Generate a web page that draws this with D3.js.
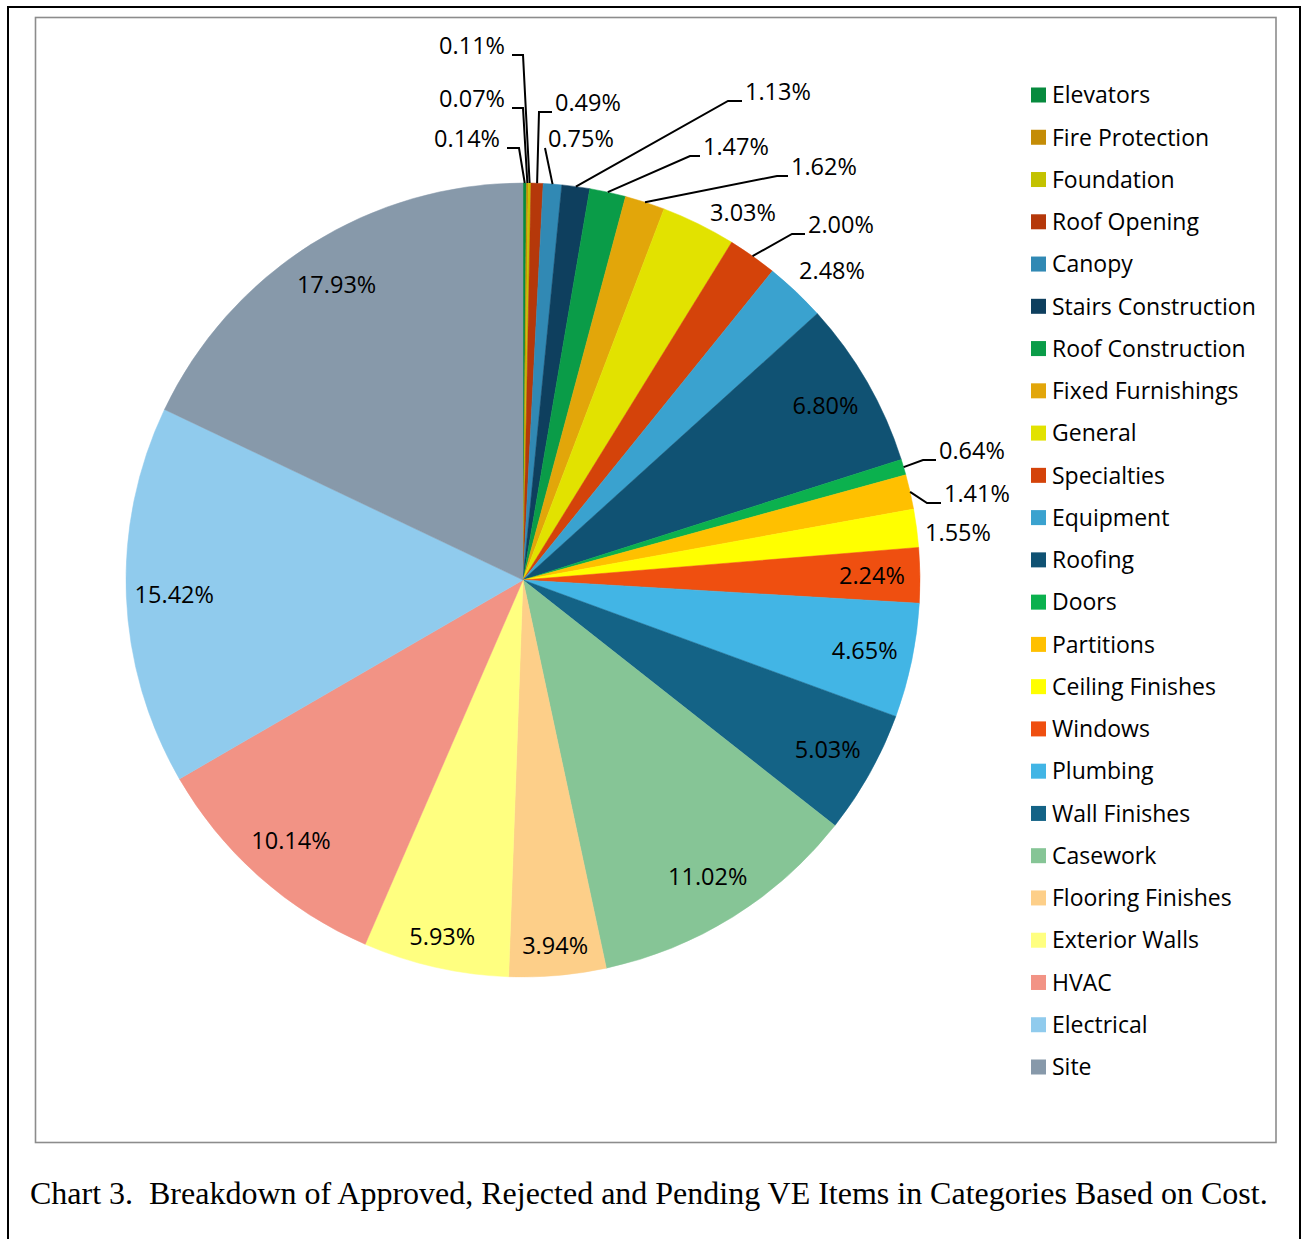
<!DOCTYPE html>
<html><head><meta charset="utf-8">
<script src="https://cdn.jsdelivr.net/npm/d3@7"></script>
<style>body{margin:0;background:#fff} svg{display:block}</style>
</head><body><svg id="c" width="1303" height="1239"></svg>
<script>
const categories = ["Elevators","Fire Protection","Foundation","Roof Opening","Canopy","Stairs Construction","Roof Construction","Fixed Furnishings","General","Specialties","Equipment","Roofing","Doors","Partitions","Ceiling Finishes","Windows","Plumbing","Wall Finishes","Casework","Flooring Finishes","Exterior Walls","HVAC","Electrical","Site"];
const percentages = [0.14,0.07,0.11,0.49,0.75,1.13,1.47,1.62,3.03,2.00,2.48,6.80,0.64,1.41,1.55,2.24,4.65,5.03,11.02,3.94,5.93,10.14,15.42,17.93];
const colors = ["#078a3e","#c48c06","#c3c200","#b5380a","#3189b4","#0e3f5e","#0a9c48","#e2a60a","#e2e200","#d4430a","#3aa2cf","#105273","#0bb14e","#ffc000","#ffff00","#ef4f10","#42b5e5","#146386","#86c596","#fdcf89","#ffff80","#f29385","#90cbed","#8799aa"];
const caption = "Chart 3.  Breakdown of Approved, Rejected and Pending VE Items in Categories Based on Cost.";

// label layout (presentation only)
const leaderLabels = {
  "Elevators":        {side:"left",  x:500, y:147, elbowX:519},
  "Fire Protection":  {side:"left",  x:505, y:107, elbowX:523},
  "Foundation":       {side:"left",  x:505, y:54,  elbowX:523},
  "Roof Opening":     {side:"right", x:555, y:111, elbowX:539},
  "Canopy":           {side:"right", x:548, y:147, elbowX:545},
  "Stairs Construction":{side:"right", x:745, y:100, elbowX:728},
  "Roof Construction":{side:"right", x:703, y:155, elbowX:690},
  "Fixed Furnishings":{side:"right", x:791, y:175, elbowX:777},
  "Specialties":      {side:"right", x:808, y:233, elbowX:792},
  "Doors":            {side:"right", x:939, y:459, elbowX:923},
  "Partitions":       {side:"right", x:944, y:502, elbowX:927}
};
const freeLabels = {
  "General":          {x:743, y:221},
  "Equipment":        {x:832, y:279},
  "Ceiling Finishes": {x:958, y:541}
};
const insideRadiusOverride = {"Flooring Finishes":367, "Exterior Walls":366};

const svg = d3.select("#c");
const cx = 523, cy = 580, R = 397, labelR = 349;
const FONT = "'Open Sans', 'Noto Sans', sans-serif";

// outer black frame and inner grey frame
svg.append("rect").attr("x",8).attr("y",7).attr("width",1292).attr("height",1300)
  .attr("fill","none").attr("stroke","#000").attr("stroke-width",2);
svg.append("rect").attr("x",35.5).attr("y",17.5).attr("width",1240.5).attr("height",1125)
  .attr("fill","#fff").attr("stroke","#8c8c8c").attr("stroke-width",1.6);

const data = categories.map((c,i)=>({name:c, value:percentages[i], color:colors[i]}));
const pie = d3.pie().sort(null).value(d=>d.value).startAngle(0).endAngle(2*Math.PI);
const arcs = pie(data);
const arc = d3.arc().innerRadius(0).outerRadius(R);

const g = svg.append("g").attr("transform",`translate(${cx},${cy})`);
g.selectAll("path.slice").data(arcs).join("path").attr("class","slice")
  .attr("d",arc).attr("fill",d=>d.data.color).attr("stroke",d=>d.data.color).attr("stroke-width",0.5);

const fmt = v => v.toFixed(2)+"%";
const labelsG = svg.append("g").attr("font-family",FONT).attr("font-size",23.5).attr("fill","#000");

arcs.forEach(a=>{
  const name = a.data.name;
  const mid = (a.startAngle+a.endAngle)/2;
  const pt = r => [cx + r*Math.sin(mid), cy - r*Math.cos(mid)];
  if (leaderLabels[name]) {
    const L = leaderLabels[name];
    const [ax, ay] = pt(R);
    const lineEnd = L.side==="right" ? L.x-3 : L.x+7;
    const lineY = L.y + 1;
    labelsG.append("path")
      .attr("d", `M${ax},${ay}L${L.elbowX},${lineY}L${lineEnd},${lineY}`)
      .attr("fill","none").attr("stroke","#000").attr("stroke-width",2);
    labelsG.append("text").attr("x",L.x).attr("y",L.y)
      .attr("text-anchor", L.side==="right" ? "start" : "end").text(fmt(a.data.value));
  } else if (freeLabels[name]) {
    const L = freeLabels[name];
    labelsG.append("text").attr("x",L.x).attr("y",L.y).attr("text-anchor","middle").text(fmt(a.data.value));
  } else {
    const r = insideRadiusOverride[name] || labelR;
    const [tx, ty] = pt(r);
    labelsG.append("text").attr("x",tx).attr("y",ty).attr("dy","0.36em")
      .attr("text-anchor","middle").text(fmt(a.data.value));
  }
});

// legend
const legendY = d3.scalePoint().domain(categories).range([95, 1067]);
const lg = svg.append("g").attr("font-family",FONT).attr("font-size",23).attr("fill","#000");
const items = lg.selectAll("g").data(data).join("g")
  .attr("transform", d=>`translate(1031,${legendY(d.name)})`);
items.append("rect").attr("x",0).attr("y",-7.5).attr("width",15).attr("height",15).attr("fill",d=>d.color);
items.append("text").attr("x",21).attr("y",0).attr("dy","0.36em").text(d=>d.name);

// caption
const cap = svg.append("text").attr("x",30).attr("y",1204)
  .attr("font-family","'Liberation Serif','Times New Roman',serif").attr("font-size",30)
  .attr("fill","#000").attr("xml:space","preserve").style("white-space","pre").text(caption);
const len = cap.node().getComputedTextLength();
cap.attr("font-size", 30*1238/len);
</script></body></html>
